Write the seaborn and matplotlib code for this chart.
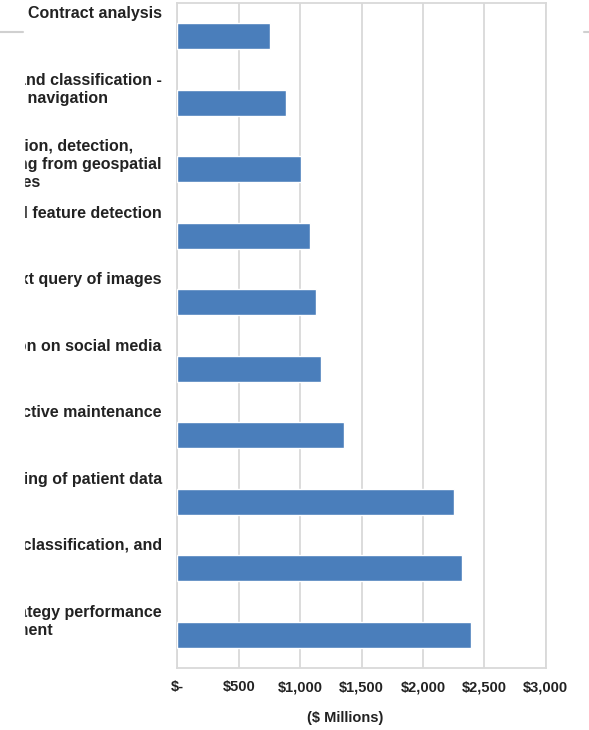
import pandas as pd
import matplotlib
matplotlib.use("Agg")
import matplotlib.pyplot as plt
import seaborn as sns
from matplotlib.lines import Line2D
from matplotlib.patches import Rectangle

# ============================================================================
# DATA
# ============================================================================

use_cases = [
    "Contract analysis",
    "Object detection and classification -\navoidance, navigation",
    "Object identification, detection,\nclassification, tracking from geospatial\nimages",
    "Automated geophysical feature detection",
    "Image-based text query of images",
    "Content distribution on social media",
    "Predictive maintenance",
    "Efficient, scalable processing of patient data",
    "Static image recognition, classification, and\ntagging",
    "Algorithmic trading strategy performance\nimprovement",
]
revenue = [755, 882, 1007, 1081, 1130, 1168, 1358, 2256, 2321, 2392]
x_ticks = [0, 500, 1000, 1500, 2000, 2500, 3000]
x_ticklabels = ["$-", "$500", "$1,000", "$1,500", "$2,000", "$2,500", "$3,000"]

df = pd.DataFrame({"use_case": use_cases, "revenue": revenue})

# ============================================================================
# PLOT
# ============================================================================

sns.set_style("white")
plt.rcParams["font.family"] = ["Liberation Sans", "DejaVu Sans"]

W, H = 589, 730
fig = plt.figure(figsize=(W / 100, H / 100), dpi=100)
ax = fig.add_axes([177.3 / W, 1 - 668 / H, (545.7 - 177.3) / W, (668 - 3) / H])

sns.barplot(data=df, x="revenue", y="use_case", orient="h", color="#4A7EBB",
            saturation=1, width=0.39, ax=ax, zorder=3)

ax.set_xlim(0, 3000)
ax.set_xticks(x_ticks)
ax.set_xticklabels(x_ticklabels, fontsize=10.5, fontweight="bold", color="#222222")
ax.tick_params(axis="x", length=0, pad=9)
ax.tick_params(axis="y", left=False, labelleft=False)
ax.set_ylabel("")
ax.set_xlabel("($ Millions)", fontsize=10.5, fontweight="bold", color="#222222")
ax.xaxis.set_label_coords(0.455, -0.064)

ax.grid(axis="x", color="#D9D9D9", linewidth=1.3, zorder=0)
for s in ax.spines.values():
    s.set_color("#D9D9D9")
    s.set_linewidth(1.3)

# category labels, top-aligned in each slot, lines centred
for i, lab in enumerate(use_cases):
    ax.text(-0.042, i - 0.45, lab, transform=ax.get_yaxis_transform(),
            ha="right", va="top", multialignment="center",
            fontsize=11.5, fontweight="bold", color="#222222", linespacing=1.25)

# cropped page edge
fig.add_artist(Rectangle((0, 0), 24 / W, 1, transform=fig.transFigure,
                         color="white", zorder=10))
fig.add_artist(Line2D([0, 23 / W], [1 - 32 / H, 1 - 32 / H], transform=fig.transFigure,
                      color="#D0D0D0", linewidth=1.5, zorder=11))
fig.add_artist(Line2D([584 / W, 1], [1 - 32 / H, 1 - 32 / H], transform=fig.transFigure,
                      color="#D0D0D0", linewidth=1.5, zorder=11))

plt.savefig("out.png", dpi=100)
